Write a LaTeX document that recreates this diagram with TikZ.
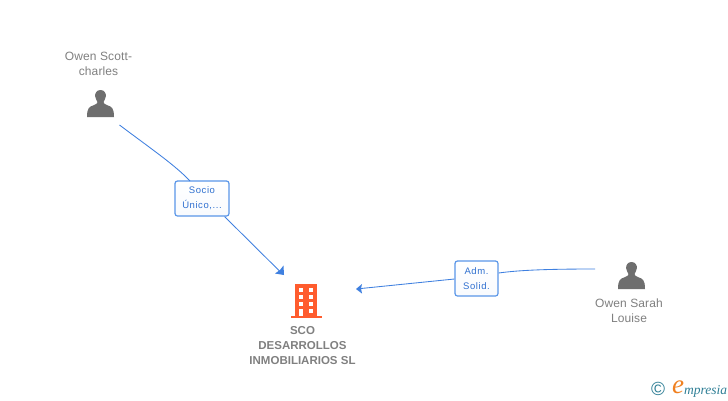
\documentclass[tikz,border=0pt]{standalone}
\usepackage{fontspec}
\setmainfont{Liberation Sans}
\newfontfamily\logofont{Liberation Serif}
\definecolor{edgeblue}{HTML}{3F80E0}
\definecolor{boxblue}{HTML}{5A96E8}
\definecolor{labblue}{HTML}{2F70D0}
\definecolor{namegrey}{HTML}{808080}
\definecolor{icongrey}{HTML}{6E6E6E}
\definecolor{bldorange}{HTML}{FF5C2E}
\definecolor{logoteal}{HTML}{2F7F96}
\definecolor{logoorange}{HTML}{F08020}
\tikzset{
  x=1pt,y=-1pt,
  personname/.style={text=namegrey,font=\fontsize{12}{15}\selectfont\addfontfeature{LetterSpace=1},align=center,inner sep=0pt},
  companyname/.style={text=namegrey,font=\fontsize{11.5}{15}\selectfont\bfseries,align=center,inner sep=0pt},
  edgelabel/.style={draw=boxblue,line width=1.2pt,rounded corners=2.5pt,top color=white,bottom color=white!96!boxblue,text=labblue,font=\fontsize{9.5}{15}\selectfont\addfontfeature{LetterSpace=6},align=center,inner sep=0pt,minimum height=35pt},
  edgeline/.style={draw=edgeblue,line width=0.85pt},
  arrowfill/.style={fill=edgeblue,draw=none},
  iconanchor/.style={inner sep=0pt,minimum width=27pt,minimum height=27pt},
  personicon/.pic={
    \fill[icongrey] (0,-13.5) .. controls (-4,-13.5) and (-5.8,-10) .. (-5.3,-7)
      .. controls (-5,-4.5) and (-3.5,-3) .. (-3,-1.5) .. controls (-3,0) and (-4,0.5) .. (-7,1.8)
      .. controls (-11,3.3) and (-13.5,4) .. (-13.5,13.5) -- (13.5,13.5)
      .. controls (13.5,4) and (11,3.3) .. (7,1.8) .. controls (4,0.5) and (3,0) .. (3,-1.5)
      .. controls (3.5,-3) and (5,-4.5) .. (5.3,-7) .. controls (5.8,-10) and (4,-13.5) .. (0,-13.5) -- cycle;
  }
}
\begin{document}
\begin{tikzpicture}
\useasboundingbox (0,0) rectangle (728,400);
\fill[white] (0,0) rectangle (728,400);
% persons
\node[personname] (n1) at (98.5,63.5) {Owen Scott-\\charles};
\node[iconanchor] (p1) at (100.5,103.5) {};
\pic at (p1.center) {personicon};
\node[personname] (n2) at (629,310.5) {Owen Sarah\\Louise};
\node[iconanchor] (p2) at (631.5,275.5) {};
\pic at (p2.center) {personicon};
% company
\node[inner sep=0pt,minimum width=32pt,minimum height=34pt] (c) at (306,301) {};
\fill[bldorange] (295,284) rectangle (317,316);
\fill[bldorange] (290.5,315.5) rectangle (322,318);
\foreach \yy in {288,295,302}{
  \foreach \xx in {299,308.5}{\fill[white] (\xx,\yy) rectangle +(4.2,3.5);}}
\fill[white] (299,309) rectangle (303.2,316);
\fill[white] (308.5,309) rectangle (312.7,312.8);
\node[companyname] (cn) at (302.5,345.5) {SCO\\DESARROLLOS\\INMOBILIARIOS SL};
% connector ends
\coordinate (s1) at (119.5,125);
\coordinate (t1) at (284,275);
\coordinate (s2) at (595,269);
\coordinate (t2) at (356,289);
% labels
\node[edgelabel,minimum width=54pt] (l1) at (202,198.5) {Socio\\Único,...};
\node[edgelabel,minimum width=43pt] (l2) at (476.5,278.5) {Adm.\\Solid.};
% connectors
\draw[edgeline] (s1) .. controls (150,148) and (175,165) .. (190,181);
\draw[edgeline] (l1.south east)++(-5,0) -- (281,272.5);
\fill[arrowfill] (t1) -- (283.5,265.5) -- (280,270) -- (275,273.5) -- cycle;
\draw[edgeline] (s2) .. controls (550,269) and (520,270) .. (l2.east|-0,273);
\draw[edgeline] (l2.west|-0,279) -- (360,288.6);
\fill[arrowfill] (t2) -- (362,284) -- (361,288.5) -- (362,293.5) -- cycle;
% logo
\node[inner sep=0pt,text=logoteal,font=\fontsize{19}{19}\selectfont] (cr) at (658,389) {©};
\node[inner sep=0pt,text=logoorange,font=\logofont\itshape\fontsize{27}{27}\selectfont] (le) at (678,387.5) {e};
\node[inner sep=0pt,anchor=west,text=logoteal,font=\logofont\itshape\fontsize{13.5}{13.5}\selectfont] (lt) at (684,391) {mpresia};
\end{tikzpicture}
\end{document}
